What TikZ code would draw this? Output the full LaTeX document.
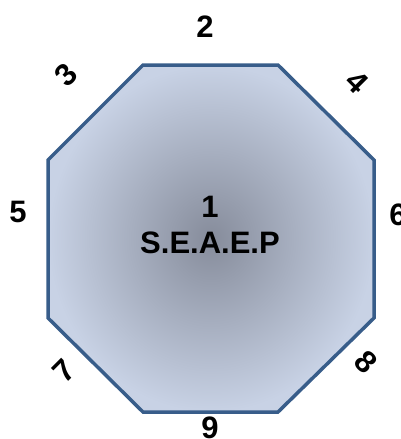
\documentclass[tikz,border=0pt]{standalone}
\usepackage{fontspec}
\setmainfont{Liberation Sans}
\usetikzlibrary{positioning}
\definecolor{rimblue}{HTML}{385D8A}
\definecolor{coreblue}{HTML}{868C9B}
\definecolor{edgeblue}{HTML}{C8D2E5}

\begin{document}
\begin{tikzpicture}[x=1pt,y=-1pt,
num/.style={font=\bfseries\fontsize{31}{31}\selectfont,inner sep=0pt},
title/.style={font=\bfseries\fontsize{31}{36}\selectfont,align=center,inner sep=0pt},
rim/.style={draw=rimblue,line width=3.5pt,line join=miter}]
\useasboundingbox (0,0) rectangle (400,439);
% octagon body
\shade[inner color=coreblue,outer color=edgeblue]
  (143,65) -- (278,65) -- (374,160) -- (374,318) -- (278,412) -- (143,412) -- (48,318) -- (48,160) -- cycle;
\draw[rim] (143,65) -- (278,65) -- (374,160) -- (374,318) -- (278,412) -- (143,412) -- (48,318) -- (48,160) -- cycle;
\node[title] (seaep) at (210,225) {1\\S.E.A.E.P};
% side numbers
\node[num] (n2) at (205,27) {2};
\node[num,rotate=45] (n3) at (66,75) {3};
\node[num,rotate=-45] (n4) at (357,82) {4};
\node[num] (n5) at (18,212) {5};
\node[num] (n6) at (398,215) {6};
\node[num,rotate=45] (n7) at (64,371) {7};
\node[num,rotate=-45] (n8) at (366,362) {8};
\node[num] (n9) at (210,428) {9};
\end{tikzpicture}
\end{document}
